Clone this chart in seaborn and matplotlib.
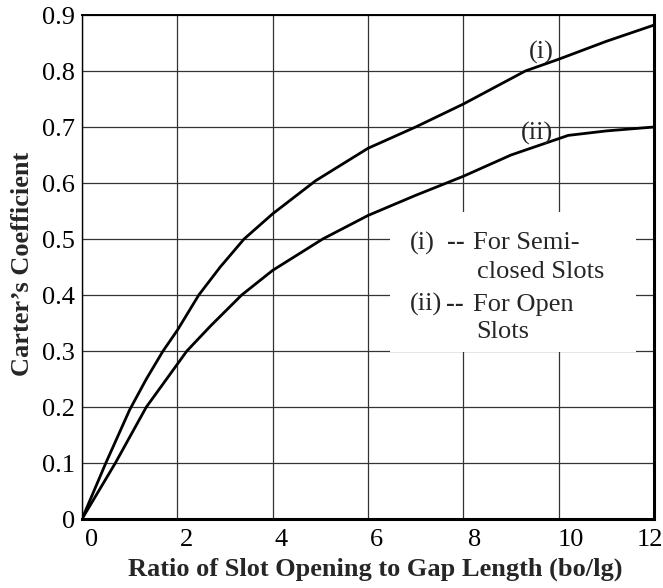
import matplotlib
matplotlib.use("Agg")
import matplotlib.pyplot as plt
import matplotlib.transforms as mtransforms
from matplotlib.patches import Rectangle
import seaborn as sns
import pandas as pd

# ---- data ----
x_semi = [0, 0.5, 1.0, 1.35, 1.7, 2.0, 2.45, 2.9, 3.4, 4.0, 4.9, 6.0, 7.0, 8.0, 9.3, 10.0, 11.0, 12.0]
y_semi = [0, 0.10, 0.195, 0.25, 0.30, 0.337, 0.40, 0.45, 0.50, 0.545, 0.604, 0.662, 0.70, 0.741, 0.80, 0.821, 0.853, 0.882]
x_open = [0, 0.7, 1.35, 2.2, 2.7, 3.35, 4.0, 5.05, 6.0, 7.0, 8.0, 9.0, 10.2, 11.0, 12.0]
y_open = [0, 0.10, 0.20, 0.30, 0.345, 0.40, 0.444, 0.50, 0.542, 0.578, 0.612, 0.650, 0.685, 0.693, 0.70]
x_ticks = [0, 2, 4, 6, 8, 10, 12]
y_ticks = [0, 0.1, 0.2, 0.3, 0.4, 0.5, 0.6, 0.7, 0.8, 0.9]
y_tick_labels = ["0", "0.1", "0.2", "0.3", "0.4", "0.5", "0.6", "0.7", "0.8", "0.9"]
legend_ids = ["(i)", "(ii)"]
legend_dash = "--"
legend_first = ["For Semi-", "For Open"]
legend_second = ["closed Slots", "Slots"]
curve_labels = ["(i)", "(ii)"]
x_label = "Ratio of Slot Opening to Gap Length (bo/lg)"
y_label = "Carter\u2019s Coefficient"

sns.set_theme(style="white")
plt.rcParams["font.family"] = ["Liberation Serif", "DejaVu Serif"]

fig = plt.figure(figsize=(6.63, 5.88), dpi=100)
ax = fig.add_axes([82 / 663, 1 - 519 / 588, 572 / 663, 504 / 588])

df = pd.concat([
    pd.DataFrame({"x": x_semi, "y": y_semi, "s": "semi"}),
    pd.DataFrame({"x": x_open, "y": y_open, "s": "open"}),
])
sns.lineplot(data=df, x="x", y="y", hue="s", palette=["black", "black"],
             estimator=None, sort=False, linewidth=2.0, legend=False, ax=ax, zorder=5)

ax.set_xlim(0, 12)
ax.set_ylim(0, 0.9)
ax.set_xticks(x_ticks)
ax.set_xticklabels([str(v) for v in x_ticks])
ax.set_yticks(y_ticks)
ax.set_yticklabels(y_tick_labels)
ax.set_xlabel("")
ax.set_ylabel("")
ax.grid(True, color="#333333", linewidth=0.9)
ax.set_axisbelow(True)
ax.tick_params(axis="both", direction="in", length=4, width=1, color="black",
               labelsize=19, labelcolor="black")
ax.tick_params(axis="x", pad=7)
ax.tick_params(axis="y", pad=5)

for side, lw in [("left", 1.0), ("top", 1.4), ("bottom", 2.2), ("right", 2.2)]:
    ax.spines[side].set_visible(True)
    ax.spines[side].set_color("black")
    ax.spines[side].set_linewidth(lw)

# per-label x offsets (pixels) as in the reference
offs = [10, 9, 8, 8, 11, 12, -4]
for lab, o in zip(ax.get_xticklabels(), offs):
    lab.set_transform(lab.get_transform() + mtransforms.ScaledTranslation(o / 100, 0, fig.dpi_scale_trans))

# white legend box covering grid
ax.add_patch(Rectangle((0.5385, 0.331), 0.43, 0.278, transform=ax.transAxes,
                       facecolor="white", edgecolor="none", zorder=3))
fs = 19

def axfx(px):
    return (px - 82) / 572

def axfy(py):
    return (519 - py) / 504

for i, (b1, b2) in enumerate([(249.3, 277.7), (310.5, 338.0)]):
    ax.text(axfx(410), axfy(b1), legend_ids[i], transform=ax.transAxes, fontsize=fs,
            va="baseline", ha="left", zorder=6)
    ax.text(axfx(447 if i == 0 else 446), axfy(b1), legend_dash, transform=ax.transAxes,
            fontsize=fs, fontweight="bold", va="baseline", ha="left", zorder=6)
    ax.text(axfx(473), axfy(b1), legend_first[i], transform=ax.transAxes, fontsize=fs,
            va="baseline", ha="left", zorder=6)
    ax.text(axfx(476.7), axfy(b2), legend_second[i], transform=ax.transAxes, fontsize=fs,
            va="baseline", ha="left", zorder=6)

ax.text(0.8037, 0.9266, curve_labels[0], transform=ax.transAxes, fontsize=fs, va="center", ha="center", zorder=6)
ax.text(0.7955, 0.7659, curve_labels[1], transform=ax.transAxes, fontsize=fs, va="center", ha="center", zorder=6)

fig.text(375 / 663, 1 - 569 / 588, x_label, fontsize=19, fontweight="bold", ha="center", va="center")
fig.text(23 / 663, 1 - 264 / 588, y_label, fontsize=19, fontweight="bold", ha="center", va="center", rotation=90)

fig.savefig("out.png", dpi=100)
